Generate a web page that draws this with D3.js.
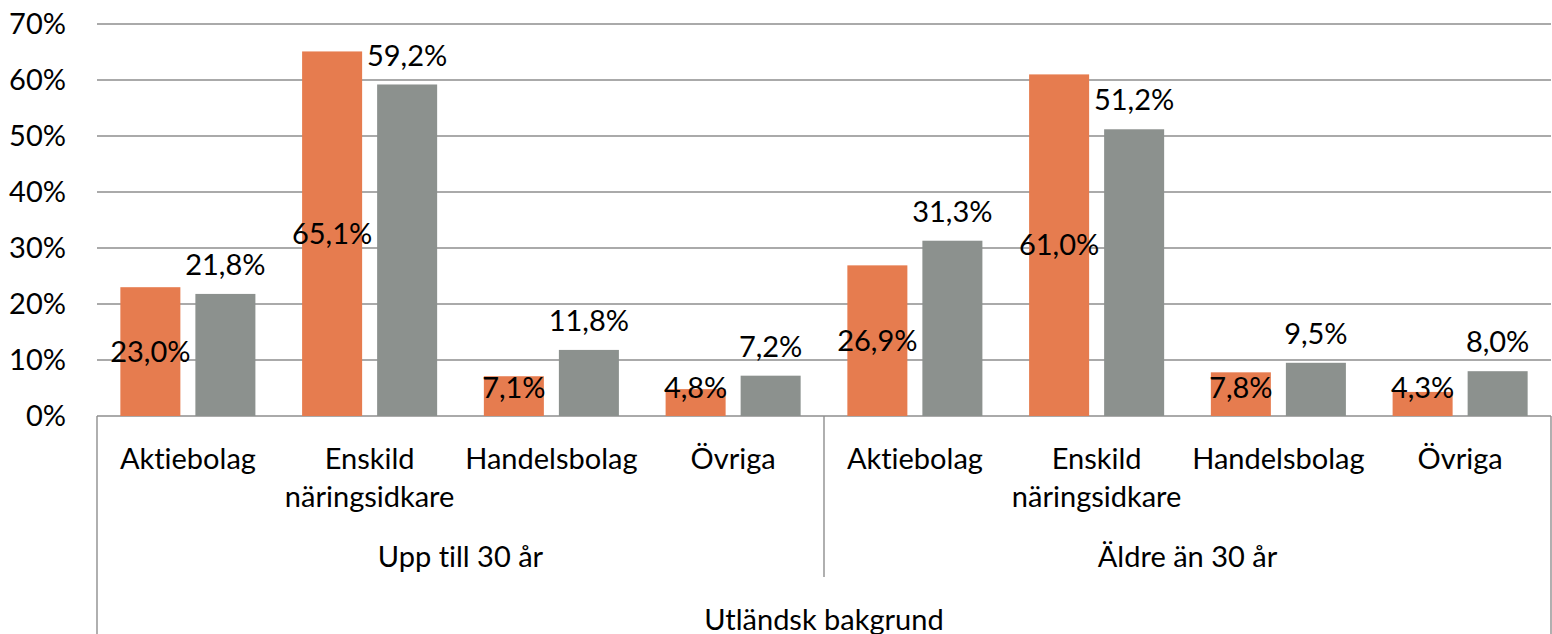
<!DOCTYPE html>
<html>
<head>
<meta charset="utf-8">
<script src="https://cdn.jsdelivr.net/npm/d3@7"></script>
<style>
  body { margin: 0; background: #fff; }
  text { font-family: Lato, "Open Sans", sans-serif; fill: #000; font-variant-ligatures: none; }
</style>
</head>
<body>
<script>
// chart data
var categories = ["Aktiebolag", "Enskild|näringsidkare", "Handelsbolag", "Övriga"]
var ageGroups = ["Upp till 30 år", "Äldre än 30 år"]
var outerLabel = "Utländsk bakgrund"
var orangeValues = [23.0, 65.1, 7.1, 4.8, 26.9, 61.0, 7.8, 4.3]
var grayValues = [21.8, 59.2, 11.8, 7.2, 31.3, 51.2, 9.5, 8.0]
var yTicks = [0, 10, 20, 30, 40, 50, 60, 70]

var width = 1552, height = 634
var plotLeft = 97, plotRight = 1551, plotTop = 24, plotBottom = 416
var fontSize = 29

var svg = d3.select("body").append("svg")
    .attr("width", width)
    .attr("height", height)

// one slot per category inside each age group
var slots = []
ageGroups.forEach(function(g, gi){
    categories.forEach(function(c, ci){
        slots.push({group: gi, cat: c, idx: gi * categories.length + ci})
    })
})

var x0 = d3.scaleBand()
    .domain(slots.map(function(d){ return d.idx }))
    .range([plotLeft, plotRight])
    .paddingInner(0.257)
    .paddingOuter(0.1285)

var x1 = d3.scaleBand()
    .domain([0, 1])
    .range([0, x0.bandwidth()])
    .paddingInner(0.2)

var y = d3.scaleLinear()
    .domain([0, 70])
    .range([plotBottom, plotTop])

var grid = "#8e8e8e"

// gridlines
svg.append("g").selectAll("line")
    .data(yTicks)
    .enter().append("line")
    .attr("x1", plotLeft).attr("x2", plotRight)
    .attr("y1", function(d){ return y(d) }).attr("y2", function(d){ return y(d) })
    .style("stroke", grid).style("stroke-width", 1.4)

// y tick labels
svg.append("g").selectAll("text")
    .data(yTicks)
    .enter().append("text")
    .attr("x", 66)
    .attr("y", function(d){ return y(d) })
    .attr("dy", "0.35em")
    .attr("text-anchor", "end")
    .style("font-size", fontSize + "px")
    .text(function(d){ return d + "%" })

var fmt = function(v){ return v.toFixed(1).replace(".", ",") + "%" }

var series = [
    {values: orangeValues, color: "#e67c4f"},
    {values: grayValues, color: "#8c918e"}
]

series.forEach(function(s, si){
    svg.append("g").selectAll("rect")
        .data(s.values)
        .enter().append("rect")
        .attr("x", function(d, i){ return x0(i) + x1(si) })
        .attr("y", function(d){ return y(d) })
        .attr("width", x1.bandwidth())
        .attr("height", function(d){ return y(0) - y(d) })
        .style("fill", s.color)
})

// orange labels sit in the middle of the bar (never lower than a label height above 0)
svg.append("g").selectAll("text")
    .data(orangeValues)
    .enter().append("text")
    .attr("x", function(d, i){ return x0(i) + x1(0) + x1.bandwidth() / 2 })
    .attr("y", function(d){ return Math.min(y(d / 2), y(0) - 28) })
    .attr("dy", "0.35em")
    .attr("text-anchor", "middle")
    .style("font-size", fontSize + "px")
    .text(fmt)

// gray labels above the bar
svg.append("g").selectAll("text")
    .data(grayValues)
    .enter().append("text")
    .attr("x", function(d, i){ return x0(i) + x1(1) + x1.bandwidth() / 2 })
    .attr("y", function(d){ return y(d) - 29 })
    .attr("dy", "0.35em")
    .attr("text-anchor", "middle")
    .style("font-size", fontSize + "px")
    .text(fmt)

// category axis lines
var step = x0.step()
svg.append("line")
    .attr("x1", plotLeft).attr("x2", plotLeft).attr("y1", plotBottom).attr("y2", height)
    .style("stroke", grid).style("stroke-width", 1.4)
svg.append("line")
    .attr("x1", plotRight).attr("x2", plotRight).attr("y1", plotBottom).attr("y2", height)
    .style("stroke", grid).style("stroke-width", 1.4)
svg.append("line")
    .attr("x1", plotLeft + step * categories.length).attr("x2", plotLeft + step * categories.length)
    .attr("y1", plotBottom).attr("y2", 577)
    .style("stroke", grid).style("stroke-width", 1.4)

// category labels
var catText = svg.append("g").selectAll("text")
    .data(slots)
    .enter().append("text")
    .attr("text-anchor", "middle")
    .style("font-size", fontSize + "px")
    .attr("y", 459)

catText.each(function(d){
    var el = d3.select(this)
    var cx = x0(d.idx) + x0.bandwidth() / 2
    d.cat.split("|").forEach(function(part, k){
        el.append("tspan")
            .attr("x", cx)
            .attr("dy", k == 0 ? "0.35em" : "1.3em")
            .text(part)
    })
})

// age group labels
svg.append("g").selectAll("text")
    .data(ageGroups)
    .enter().append("text")
    .attr("x", function(d, i){ return plotLeft + step * categories.length * (i + 0.5) })
    .attr("y", 557)
    .attr("dy", "0.35em")
    .attr("text-anchor", "middle")
    .style("font-size", fontSize + "px")
    .text(function(d){ return d })

svg.append("text")
    .attr("x", (plotLeft + plotRight) / 2)
    .attr("y", 620)
    .attr("dy", "0.35em")
    .attr("text-anchor", "middle")
    .style("font-size", fontSize + "px")
    .text(outerLabel)
</script>
</body>
</html>
